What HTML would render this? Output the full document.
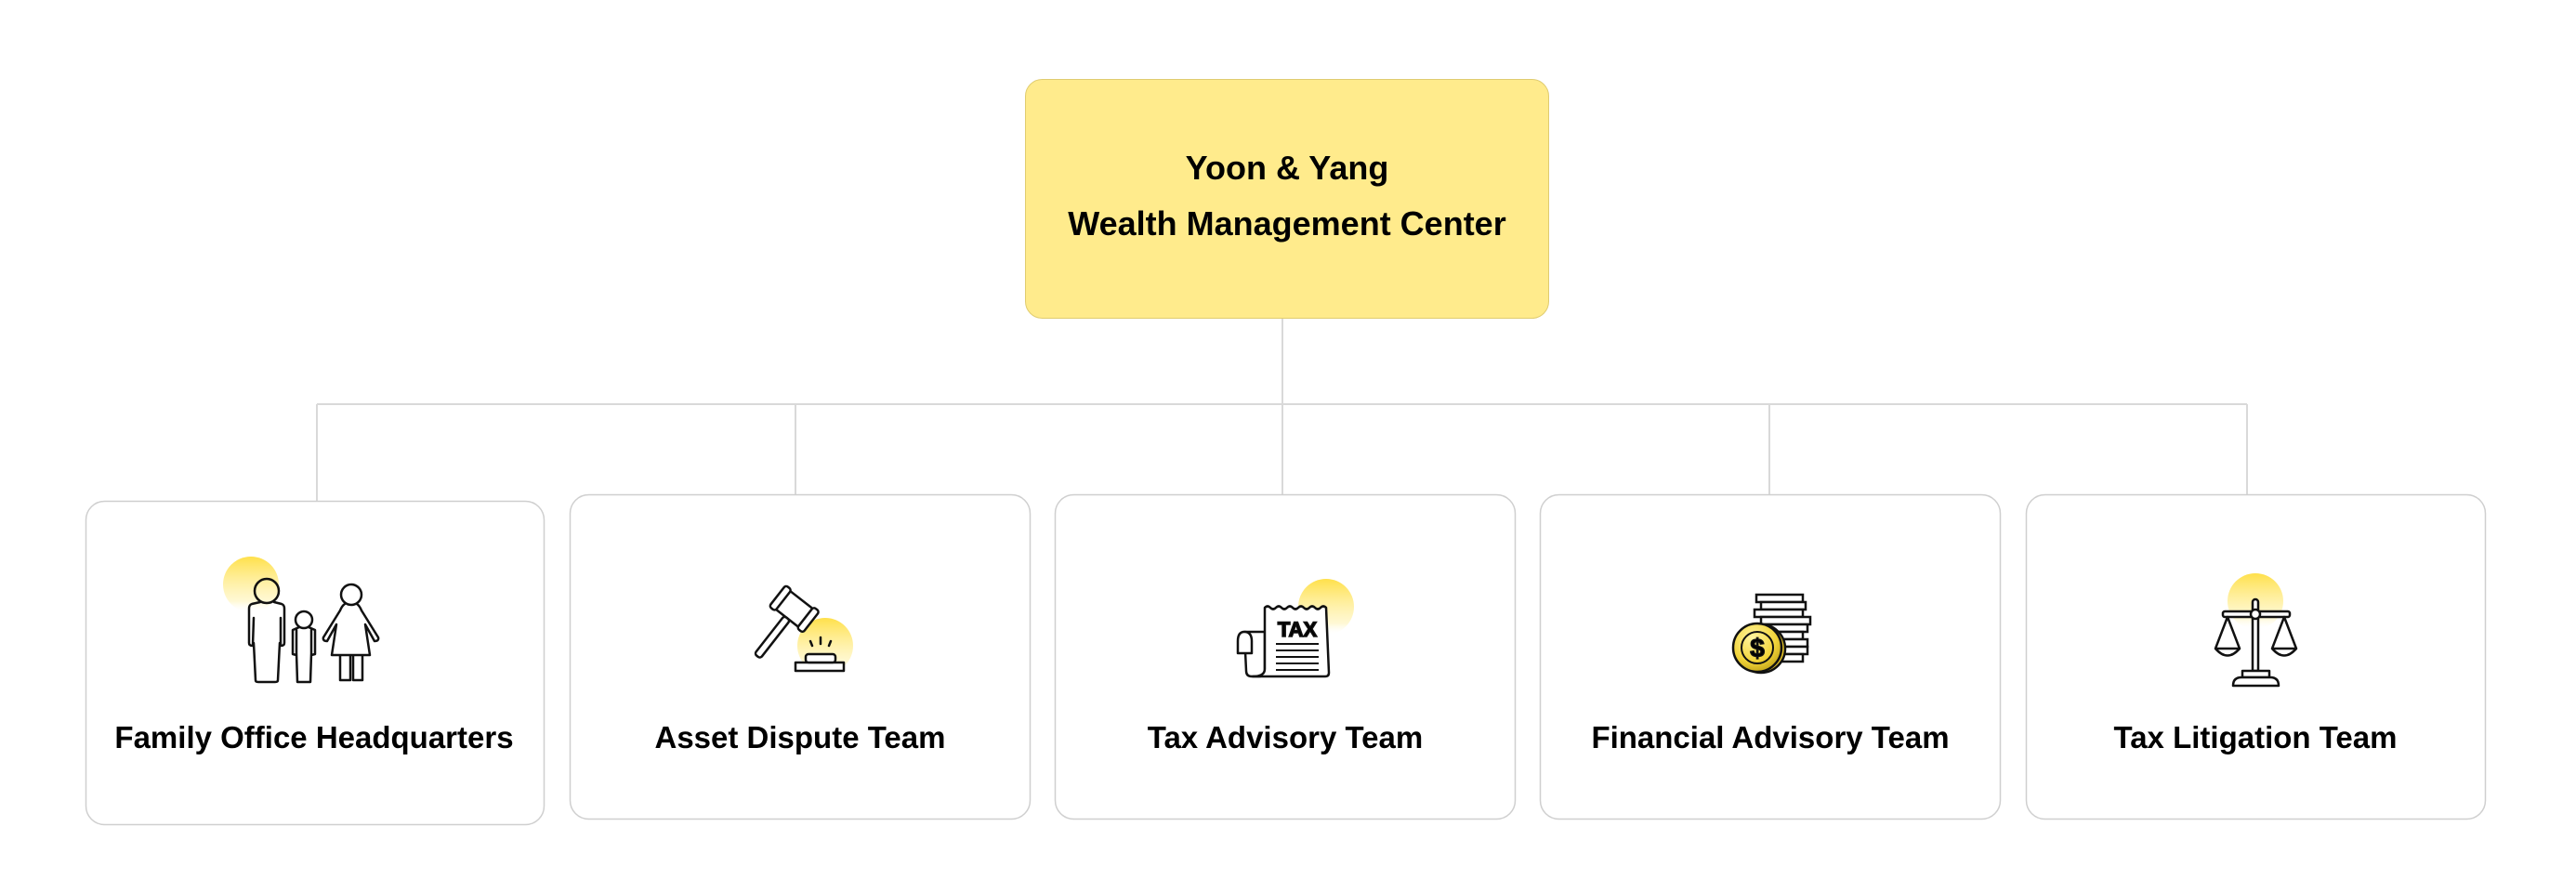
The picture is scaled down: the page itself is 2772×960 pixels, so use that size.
<!DOCTYPE html>
<html><head><meta charset="utf-8"><style>
html,body{margin:0;padding:0;background:#fff;}
svg{display:block;}
text{font-family:"Liberation Sans",sans-serif;font-weight:bold;fill:#000;}
</style></head><body>
<svg width="2772" height="960" viewBox="0 0 2772 960" xmlns="http://www.w3.org/2000/svg">
<defs>
<linearGradient id="sun" x1="0" y1="0" x2="0" y2="1">
<stop offset="0" stop-color="#ffe04a"/><stop offset="0.8" stop-color="#fff4b8" stop-opacity="0.6"/><stop offset="1" stop-color="#fff" stop-opacity="0"/>
</linearGradient>
<radialGradient id="coin" cx="0.4" cy="0.3" r="0.8">
<stop offset="0" stop-color="#fff5a0"/><stop offset="0.6" stop-color="#f2d43a"/><stop offset="1" stop-color="#b89a10"/>
</radialGradient>
</defs>
<!-- connectors -->
<g stroke="#d9d9d9" stroke-width="2" fill="none">
<line x1="1380" y1="343" x2="1380" y2="435"/>
<line x1="341" y1="435" x2="2418" y2="435"/>
<line x1="341" y1="435" x2="341" y2="539"/>
<line x1="856" y1="435" x2="856" y2="532"/>
<line x1="1380" y1="435" x2="1380" y2="532"/>
<line x1="1904" y1="435" x2="1904" y2="532"/>
<line x1="2418" y1="435" x2="2418" y2="532"/>
</g>
<!-- root -->
<rect x="1103.5" y="85.5" width="563" height="257" rx="18" fill="#ffeb8c" stroke="#e0cc70" stroke-width="1"/>
<text x="1385" y="193" font-size="36" text-anchor="middle">Yoon &amp; Yang</text>
<text x="1385" y="253" font-size="36" text-anchor="middle">Wealth Management Center</text>
<!-- boxes -->
<g fill="#fff" stroke="#cfcfcf" stroke-width="1.5">
<rect x="92.5" y="539.5" width="493" height="348" rx="20"/>
<rect x="613.5" y="532.5" width="495" height="349" rx="20"/>
<rect x="1135.5" y="532.5" width="495" height="349" rx="20"/>
<rect x="1657.5" y="532.5" width="495" height="349" rx="20"/>
<rect x="2180.5" y="532.5" width="494" height="349" rx="20"/>
</g>
<g font-size="33" text-anchor="middle">
<text x="338" y="805">Family Office Headquarters</text>
<text x="861" y="805">Asset Dispute Team</text>
<text x="1383" y="805">Tax Advisory Team</text>
<text x="1905" y="805">Financial Advisory Team</text>
<text x="2427" y="805">Tax Litigation Team</text>
</g>
<!-- suns -->
<circle cx="270" cy="629" r="30" fill="url(#sun)"/>
<circle cx="888" cy="695" r="30" fill="url(#sun)"/>
<circle cx="1427" cy="653" r="30" fill="url(#sun)"/>
<circle cx="2427" cy="647" r="30" fill="url(#sun)"/>
<!-- family -->
<g fill="none" stroke="#111" stroke-width="2.5" stroke-linejoin="round" stroke-linecap="round">
<circle cx="287" cy="636" r="13"/>
<path d="M280 648 L271 650 Q268 651 268 655 L268 692 Q268 695 272 695 L273 665 M295 648 L303 650 Q306 651 306 655 L306 692 Q306 695 302 695 L302 665 M273 692 L275 732 Q275 734 278 734 L296 734 Q299 734 299 732 L301 692"/>
<circle cx="327" cy="667" r="9"/>
<path d="M322 675 L315 678 L315 704 L319 705 L319 678 M332 675 L339 678 L339 704 L335 705 L335 678 M319 703 L320 734 L334 734 L335 703"/>
<circle cx="378" cy="640" r="11"/>
<path d="M371 650 Q368 652 366 657 L348 686 Q347 690 352 690 L362 672 L357 705 L398 705 L393 672 L403 690 Q408 690 407 686 L389 657 Q387 652 384 650 M366 705 L366 732 L377 732 L377 705 M380 705 L380 732 L390 732 L390 705"/>
</g>
<!-- gavel -->
<g fill="none" stroke="#111" stroke-width="2.5" stroke-linejoin="round" stroke-linecap="round">
<g transform="rotate(38 855 655)">
<rect x="837" y="643" width="36" height="25" rx="3" fill="#fff"/>
<rect x="832" y="641" width="8" height="29" rx="3" fill="#fff"/>
<rect x="870" y="641" width="8" height="29" rx="3" fill="#fff"/>
<rect x="851" y="668" width="8" height="52" rx="3" fill="#fff"/>
</g>
<rect x="856" y="713" width="52" height="9" fill="#fff"/>
<rect x="867" y="704" width="32" height="9" rx="3" fill="#fff"/>
<path d="M872 690 L874 695 M883 686 L883 693 M894 690 L892 695"/>
</g>
<!-- tax -->
<g fill="none" stroke="#111" stroke-width="2.5" stroke-linejoin="round">
<path d="M1339 680 L1361 680 L1361 722 Q1361 728 1355 728 L1347 728 Q1341 728 1341 722 Z" fill="#fff"/>
<path d="M1332 690 Q1332 680 1339 680 Q1347 680 1347 690 L1347 703 L1332 703 Z" fill="#fff"/>
<path d="M1361 654 q3 -3 6 0 q3 3 6 0 q3 -3 6 0 q3 3 6 0 q3 -3 6 0 q3 3 6 0 q3 -3 6 0 q3 3 6 0 q3 -3 6 0 q3 3 6 0 q3 -3 6 0 L1430 724 Q1430 728 1426 728 L1348 728 Q1361 728 1361 720 Z" fill="#fff"/>
<path d="M1373 693 H1419 M1373 700 H1419 M1373 707 H1419 M1373 714 H1419 M1373 721 H1419" stroke-width="2"/>
</g>
<text x="1396" y="685" font-size="22" text-anchor="middle" fill="#fff" stroke="#111" stroke-width="1.5">TAX</text>
<!-- coins -->
<g fill="#fff" stroke="#111" stroke-width="2.5">
<rect x="1890" y="640" width="50" height="8"/>
<rect x="1895" y="648" width="48" height="8"/>
<rect x="1888" y="656" width="52" height="8"/>
<rect x="1895" y="664" width="53" height="8"/>
<rect x="1900" y="672" width="45" height="8"/>
<rect x="1900" y="680" width="40" height="8"/>
<rect x="1902" y="688" width="43" height="8"/>
<rect x="1900" y="696" width="45" height="8"/>
<rect x="1900" y="704" width="40" height="8"/>
<circle cx="1895" cy="698" r="26" fill="#e7c52a"/>
<circle cx="1891" cy="697" r="26" fill="url(#coin)"/>
<circle cx="1891" cy="697" r="17" fill="none" stroke-width="2"/>
</g>
<text x="1891" y="707" font-size="28" text-anchor="middle" fill="#f4d84a" stroke="#111" stroke-width="1.3">$</text>
<!-- scales -->
<g fill="none" stroke="#111" stroke-width="2.5" stroke-linejoin="round" stroke-linecap="round">
<rect x="2424" y="645" width="6" height="14" rx="3" fill="#fff"/>
<rect x="2392" y="658" width="72" height="6" rx="2" fill="#fff"/>
<rect x="2424" y="664" width="6" height="58" fill="#fff"/>
<circle cx="2427" cy="661" r="5" fill="#fff"/>
<rect x="2413" y="722" width="29" height="7" fill="#fff"/>
<path d="M2403 738 Q2403 729 2412 729 L2443 729 Q2452 729 2452 738 Z" fill="#fff"/>
<path d="M2397 664 L2384 698 M2397 664 L2410 698 M2384 698 Q2397 713 2410 698 Z"/>
<path d="M2458 664 L2445 698 M2458 664 L2471 698 M2445 698 Q2458 713 2471 698 Z"/>
</g>
</svg>
</body></html>
